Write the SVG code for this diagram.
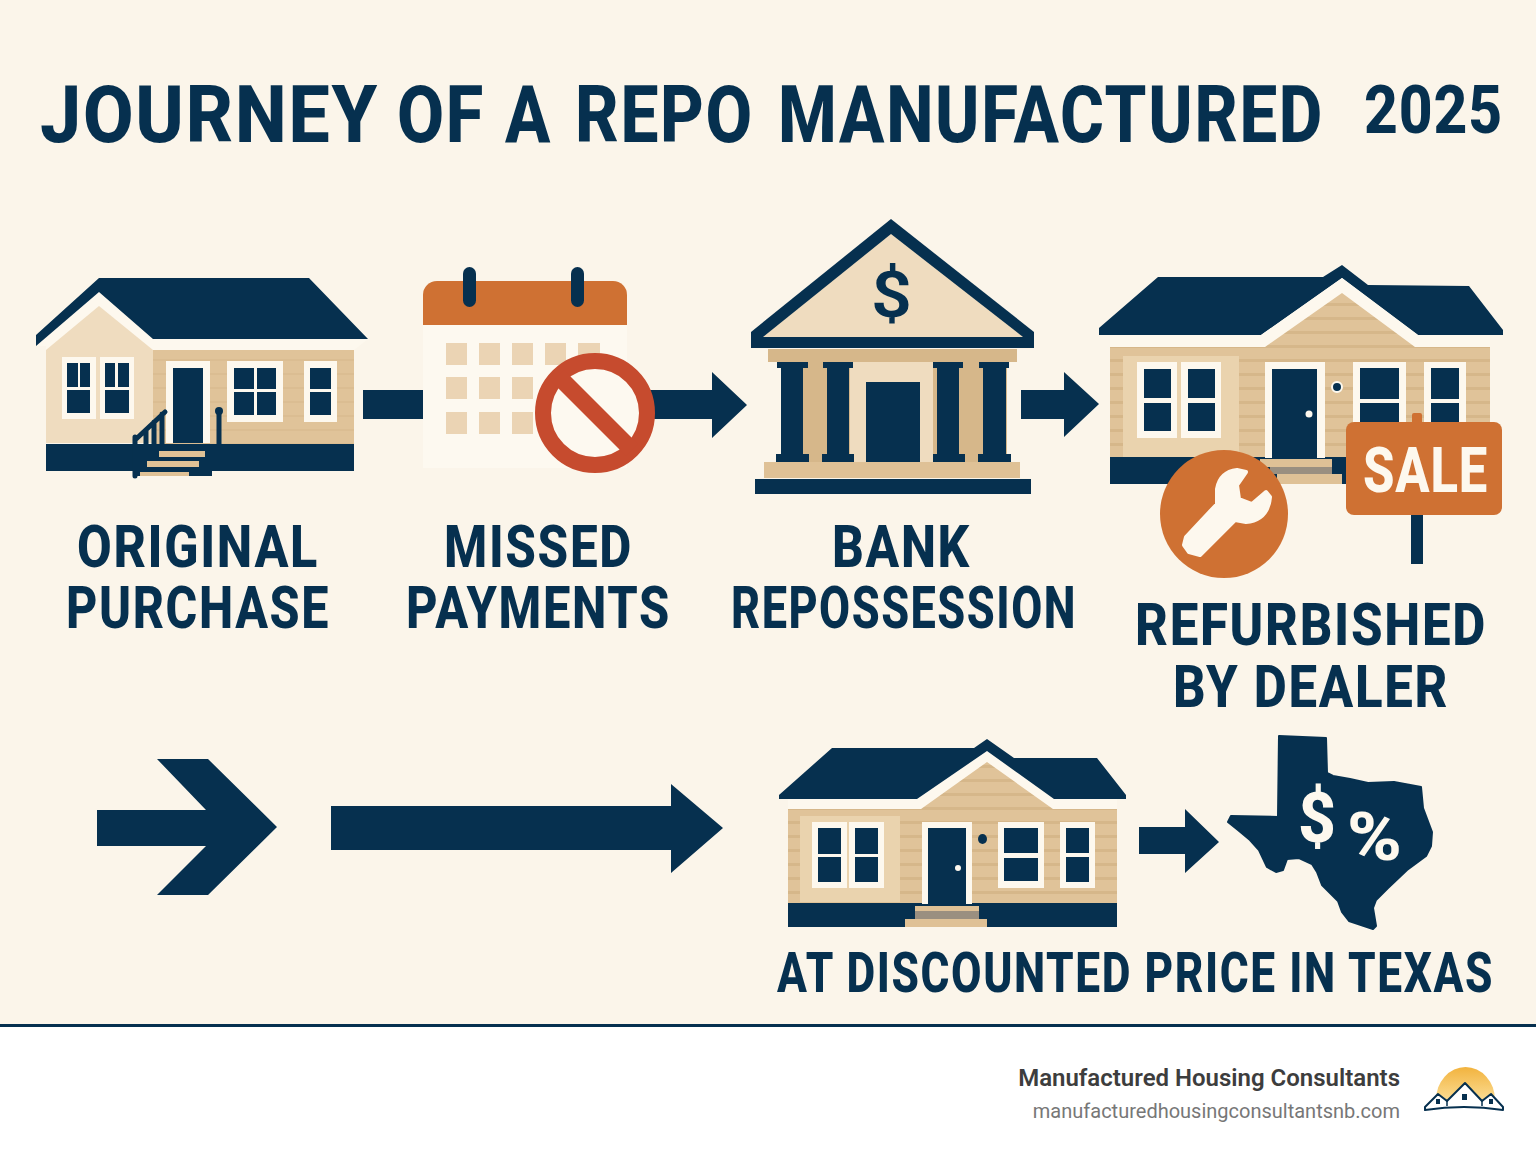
<svg xmlns="http://www.w3.org/2000/svg" width="1536" height="1154" viewBox="0 0 1536 1154">
<style>
.n{fill:#06304f}.c{fill:#fdf8ee}.t{fill:#dfc196}.d{fill:#d6b78a}.l{fill:#efdcbf}.p{fill:#ead3ae}.o{fill:#cf7133}.g{fill:#9a8f80}
.k{font-family:"Roboto","Liberation Sans",sans-serif;font-weight:800;fill:#06304f}
.lb{font-size:60px;letter-spacing:2px}
.w{font-family:"Roboto","Liberation Sans",sans-serif;font-weight:800;fill:#fdf8ee}
</style>
<defs>
<pattern id="sid" width="10" height="14" patternUnits="userSpaceOnUse"><rect width="10" height="14" fill="#e0c399"/><rect y="9" width="10" height="3" fill="#d6b78a"/></pattern>
<pattern id="sid2" width="10" height="14" patternUnits="userSpaceOnUse"><rect width="10" height="14" fill="#e0c399"/><rect y="9" width="10" height="2" fill="#dbbd92"/></pattern>
<linearGradient id="sun" x1="0" y1="0" x2="0" y2="1"><stop offset="0" stop-color="#f2b33e"/><stop offset="1" stop-color="#fbdc92"/></linearGradient>
</defs>
<rect width="1536" height="1154" fill="#fbf5ea"/>
<rect y="1024" width="1536" height="130" fill="#fff"/>
<rect y="1024" width="1536" height="3" fill="#06304f"/>

<g id="title">
<text class="k" y="142" font-size="80" letter-spacing="2"><tspan x="40" textLength="339" lengthAdjust="spacingAndGlyphs">JOURNEY</tspan> <tspan x="397" textLength="88" lengthAdjust="spacingAndGlyphs">OF</tspan> <tspan x="505" textLength="47" lengthAdjust="spacingAndGlyphs">A</tspan> <tspan x="575" textLength="179" lengthAdjust="spacingAndGlyphs">REPO</tspan> <tspan x="778" textLength="546" lengthAdjust="spacingAndGlyphs">MANUFACTURED</tspan></text>
<text class="k" x="1364" y="133" font-size="67" letter-spacing="1" textLength="139" lengthAdjust="spacingAndGlyphs">2025</text>
</g>

<g id="connectors">
<rect class="n" x="363" y="390" width="60" height="29"/>
<polygon class="n" points="650,390 712,390 712,372 747,405 712,438 712,419 650,419"/>
<polygon class="n" points="1021,390 1064,390 1064,372 1099,404 1064,437 1064,419 1021,419"/>
<polygon class="n" points="97,810 206,810 157,759 208,759 277,827 208,895 157,895 206,846 97,846"/>
<polygon class="n" points="331,806 671,806 671,784 723,828 671,873 671,850 331,850"/>
<polygon class="n" points="1139,827 1185,827 1185,809 1219,842 1185,873 1185,854 1139,854"/>
</g>

<g id="original-purchase">
<polygon class="c" points="36,346 99,292 153,339 368,339 354,350 46,350 46,346"/>
<polygon class="n" points="99,278 309,278 368,339 153,339 99,292 36,346 36,335"/>
<polygon class="l" points="46,350 99,306 153,350 153,443 46,443"/>
<rect x="153" y="350" width="201" height="94" fill="url(#sid2)"/>
<rect class="n" x="46" y="444" width="308" height="27"/>
<rect class="c" x="62" y="357" width="34" height="62"/><rect class="c" x="100" y="357" width="34" height="62"/>
<path class="n" d="M67 363h11v24h-11zM80 363h10v24h-10zM67 390h23v23h-23zM105 363h10v24h-10zM118 363h11v24h-11zM105 390h24v23h-24z"/>
<rect class="c" x="166" y="361" width="44" height="82"/><rect class="n" x="173" y="368" width="30" height="75"/>
<rect class="c" x="227" y="361" width="56" height="61"/>
<path class="n" d="M234 368h20v21h-20zM257 368h19v21h-19zM234 392h20v23h-20zM257 392h19v23h-19z"/>
<rect class="c" x="304" y="361" width="33" height="61"/>
<path class="n" d="M310 368h21v21h-21zM310 392h21v23h-21z"/>
<path d="M135 440L165 412M135 437V476M146 430V445M154 422V445M162 414V445M219 411V445" stroke="#06304f" stroke-width="5" fill="none" stroke-linecap="round"/>
<circle class="n" cx="219" cy="411" r="4"/>
<rect class="n" x="133" y="444" width="79" height="32"/>
<rect class="t" x="159" y="451" width="46" height="6"/><rect class="t" x="147" y="461" width="52" height="6"/><rect class="t" x="140" y="472" width="49" height="4"/>
</g>

<g id="missed-payments">
<rect x="423" y="325" width="204" height="143" fill="#fdf9f0"/>
<path class="o" d="M423 325V295a14 14 0 0 1 14-14H613a14 14 0 0 1 14 14V325Z"/>
<rect class="n" x="463" y="267" width="13" height="40" rx="6.5"/><rect class="n" x="571" y="267" width="13" height="40" rx="6.5"/>
<g fill="#ebd4b4">
<rect x="446" y="343" width="21" height="22"/><rect x="479" y="343" width="21" height="22"/><rect x="512" y="343" width="21" height="22"/><rect x="545" y="343" width="21" height="22"/><rect x="578" y="343" width="22" height="22"/>
<rect x="446" y="377" width="21" height="22"/><rect x="479" y="377" width="21" height="22"/><rect x="512" y="377" width="21" height="22"/>
<rect x="446" y="412" width="21" height="22"/><rect x="479" y="412" width="21" height="22"/><rect x="512" y="412" width="21" height="22"/>
</g>
<circle cx="595" cy="413" r="52" fill="#fdf9f0" stroke="#c64b2e" stroke-width="16"/>
<line x1="558" y1="376" x2="632" y2="450" stroke="#c64b2e" stroke-width="17"/>
</g>

<g id="bank-repossession">
<rect class="d" x="768" y="349" width="249" height="13"/>
<rect class="d" x="782" y="362" width="225" height="100"/>
<rect class="l" x="850" y="362" width="83" height="100"/>
<rect class="n" x="866" y="382" width="54" height="80"/>
<polygon class="n" points="891,219 1034,332 1034,348 751,348 751,332"/>
<polygon class="l" points="891,234 1023,337 763,337"/>
<text x="871" y="317" font-family="Roboto,'Liberation Sans',sans-serif" font-size="64" font-weight="600" fill="#06304f" textLength="41" lengthAdjust="spacingAndGlyphs">$</text>
<path class="n" d="M777 362h31v6h-5v86h6v8h-33v-8h5v-86h-4zM823 362h30v6h-4v86h5v8h-32v-8h5v-86h-4zM933 362h30v6h-4v86h6v8h-32v-8h4v-86h-4zM979 362h30v6h-3v86h5v8h-33v-8h5v-86h-4z"/>
<rect class="t" x="764" y="462" width="256" height="16"/>
<rect class="n" x="755" y="479" width="276" height="15"/>
</g>

<g id="refurbished-by-dealer">
<polygon class="n" points="1158,277 1323,277 1342,265 1368,285 1469,286 1503,330 1503,335 1418,335 1342,278 1261,335 1099,335 1099,328"/>
<polygon class="c" points="1261,335 1342,278 1418,335 1490,335 1490,347 1110,347 1110,335"/>
<polygon fill="url(#sid)" points="1110,347 1265,347 1342,293 1415,347 1490,347 1490,457 1110,457"/>
<rect class="p" x="1123" y="356" width="116" height="101"/>
<rect class="n" x="1110" y="457" width="237" height="27"/>
<rect class="c" x="1137" y="362" width="40" height="76"/><rect class="c" x="1181" y="362" width="40" height="76"/>
<path class="n" d="M1144 369h27v29h-27zM1144 403h27v28h-27zM1188 369h27v29h-27zM1188 403h27v28h-27z"/>
<rect class="c" x="1265" y="362" width="60" height="96"/><rect class="n" x="1272" y="369" width="45" height="89"/>
<circle class="c" cx="1309" cy="414" r="3.5"/>
<circle class="n" cx="1337" cy="387" r="5" stroke="#fdf8ee" stroke-width="2"/>
<rect class="c" x="1353" y="362" width="53" height="62"/>
<path class="n" d="M1360 368h39v31h-39zM1360 403h39v20h-39z"/>
<rect class="c" x="1424" y="362" width="42" height="62"/>
<path class="n" d="M1431 368h28v31h-28zM1431 403h28v20h-28z"/>
<rect class="t" x="1260" y="459" width="72" height="8"/><rect class="g" x="1270" y="467" width="62" height="7"/><rect class="t" x="1277" y="474" width="65" height="10"/>
<circle class="o" cx="1224" cy="514" r="64"/>
<path class="c" stroke="#fdf8ee" stroke-width="4" stroke-linejoin="round" d="M1186 537L1217 504V489Q1220 472 1237 470L1246 472L1237 485L1239 499L1252 504L1266 492L1270 497Q1268 520 1246 522L1235 520L1200 555L1189 552L1184 545Z"/>
<rect class="n" x="1411" y="515" width="12" height="49"/>
<rect class="o" x="1412" y="413" width="10" height="12" rx="2"/>
<rect class="o" x="1346" y="422" width="156" height="93" rx="8"/>
<text class="w" x="1363" y="492" font-size="63" letter-spacing="1" textLength="125" lengthAdjust="spacingAndGlyphs">SALE</text>
</g>

<g id="discounted-house">
<polygon class="c" points="917,799 987,751 1054,799 1117,799 1117,809 788,809 788,799"/>
<polygon class="n" points="832,748 974,748 987,739 1014,758 1097,758 1126,795 1126,799 1054,799 987,751 917,799 779,799 779,795"/>
<polygon fill="url(#sid)" points="788,809 921,809 987,762 1053,809 1117,809 1117,903 788,903"/>
<rect class="p" x="800" y="816" width="100" height="86"/>
<rect class="n" x="788" y="903" width="329" height="24"/>
<rect class="c" x="812" y="822" width="35" height="66"/><rect class="c" x="849" y="822" width="35" height="66"/>
<path class="n" d="M818 828h23v26h-23zM818 857h23v25h-23zM855 828h23v26h-23zM855 857h23v25h-23z"/>
<rect class="c" x="922" y="822" width="50" height="82"/><rect class="n" x="928" y="828" width="38" height="77"/>
<circle class="c" cx="958" cy="868" r="3"/>
<ellipse class="n" cx="982.500" cy="839" rx="4.500" ry="5"/>
<rect class="c" x="998" y="822" width="46" height="66"/>
<path class="n" d="M1004 828h34v25h-34zM1004 858h34v23h-34z"/>
<rect class="c" x="1060" y="822" width="35" height="66"/>
<path class="n" d="M1066 828h23v25h-23zM1066 857h23v25h-23z"/>
<rect class="t" x="915" y="906" width="64" height="5"/><rect class="g" x="915" y="911" width="64" height="8"/><rect class="t" x="905" y="919" width="82" height="8"/>
</g>

<g id="texas">
<path class="n" stroke="#06304f" stroke-width="2" stroke-linejoin="round" d="M1279 736L1326 738L1327 773L1333 776L1350 779L1368 783L1394 782L1421 787L1423 808L1432 832L1431 846L1426 856L1407 870L1388 888L1376 900L1373 908L1376 926L1373 929L1349 921L1342 912L1338 901L1322 885L1317 872L1312 864L1299 858L1287 859L1283 870L1276 872L1267 867L1259 850L1250 840L1238 830L1228 822L1231 816L1278 817Z"/>
<text class="w" x="1298" y="842" font-size="70" textLength="38" lengthAdjust="spacingAndGlyphs">$</text>
<text class="w" x="1347" y="860" font-size="66" textLength="55" lengthAdjust="spacingAndGlyphs">%</text>
</g>

<g id="labels">
<text class="k lb" x="77" y="567" textLength="242" lengthAdjust="spacingAndGlyphs">ORIGINAL</text>
<text class="k lb" x="66" y="628" textLength="264" lengthAdjust="spacingAndGlyphs">PURCHASE</text>
<text class="k lb" x="444" y="567" textLength="189" lengthAdjust="spacingAndGlyphs">MISSED</text>
<text class="k lb" x="406" y="628" textLength="265" lengthAdjust="spacingAndGlyphs">PAYMENTS</text>
<text class="k lb" x="832" y="567" textLength="139" lengthAdjust="spacingAndGlyphs">BANK</text>
<text class="k lb" x="731" y="628" textLength="346" lengthAdjust="spacingAndGlyphs">REPOSSESSION</text>
<text class="k lb" x="1135" y="645" textLength="352" lengthAdjust="spacingAndGlyphs">REFURBISHED</text>
<text class="k lb" x="1173" y="707" textLength="276" lengthAdjust="spacingAndGlyphs">BY DEALER</text>
<text class="k" x="777" y="992" font-size="56" letter-spacing="2" textLength="717" lengthAdjust="spacingAndGlyphs">AT DISCOUNTED PRICE IN TEXAS</text>
</g>

<g id="footer">
<text x="1400" y="1086" text-anchor="end" font-family="Roboto,'Liberation Sans',sans-serif" font-size="24" font-weight="600" fill="#3d3d3d">Manufactured Housing Consultants</text>
<text x="1400" y="1118" text-anchor="end" font-family="Roboto,'Liberation Sans',sans-serif" font-size="20" fill="#777">manufacturedhousingconsultantsnb.com</text>
<path d="M1436 1100a29.500 33 0 0 1 59 0z" fill="url(#sun)"/>
<path d="M1425 1107L1438 1094L1447 1101L1465 1083L1482 1101L1491 1094L1503 1107V1110Q1464 1104 1425 1110Z" fill="#fff" stroke="#06304f" stroke-width="2" stroke-linejoin="round"/>
<path d="M1447 1101V1106M1482 1101V1106" stroke="#06304f" stroke-width="1.500"/>
<path d="M1462 1094h5v6h-5zM1436 1099h4v5h-4zM1489 1099h4v5h-4z" fill="#06304f"/>
</g>
</svg>
